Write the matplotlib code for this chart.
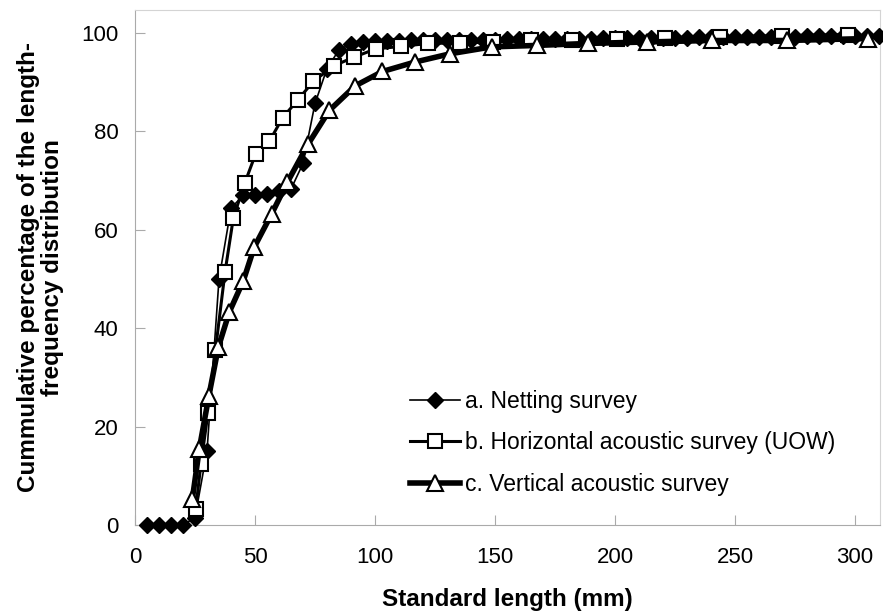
import matplotlib
matplotlib.use("Agg")
import matplotlib.pyplot as plt

plt.rcParams['font.family'] = ['Liberation Sans', 'DejaVu Sans']

# a. Netting survey (5 mm bins)
net_x = [5, 10, 15, 20, 25, 30, 35, 40, 45, 50, 55, 60, 65, 70, 75, 80, 85, 90,
         95, 100, 105, 110, 115, 120, 125, 130, 135, 140, 145, 150, 155, 160,
         165, 170, 175, 180, 185, 190, 195, 200, 205, 210, 215, 220, 225, 230,
         235, 240, 245, 250, 255, 260, 265, 270, 275, 280, 285, 290, 295, 300,
         305, 310]
net_y = [0, 0, 0, 0, 1.5, 15, 50, 64.4, 67, 67, 67.3, 68, 68.3, 73.5, 85.7,
         92.8, 96.6, 97.8, 98.1, 98.3, 98.4, 98.4, 98.5, 98.5, 98.6, 98.6, 98.6,
         98.7, 98.7, 98.7, 98.8, 98.8, 98.8, 98.8, 98.9, 98.9, 98.9, 98.9, 99.0,
         99.0, 99.0, 99.0, 99.1, 99.1, 99.1, 99.1, 99.2, 99.2, 99.2, 99.2, 99.3,
         99.3, 99.3, 99.3, 99.3, 99.4, 99.4, 99.4, 99.4, 99.5, 99.5, 99.5]

# b. Horizontal acoustic survey (UOW)
hor_x = [25.3, 27.5, 30.4, 33.5, 37.5, 41, 45.8, 50.3, 56, 61.5, 68, 74.3, 83,
         91.2, 100.3, 111, 122, 135.4, 149, 165, 182, 200.7, 221, 243.8, 269.4, 297]
hor_y = [3.3, 12.5, 22.8, 35.5, 51.4, 62.5, 69.6, 75.5, 78, 82.8, 86.5, 90.2,
         93.4, 95.1, 96.8, 97.3, 97.9, 98, 98.2, 98.5, 98.7, 98.9, 99.1, 99.2,
         99.5, 99.7]

# c. Vertical acoustic survey
ver_x = [23.9, 26.8, 30.8, 34.7, 39.3, 45.1, 49.7, 57, 63.5, 72.2, 81, 91.8,
         103.1, 116.5, 131.3, 148.6, 167.4, 188.9, 213.2, 240.3, 271.5, 305.5]
ver_y = [5.3, 15.5, 26.3, 36.1, 43.3, 49.6, 56.5, 63.3, 69.7, 77.5, 84.3, 89.3,
         92.2, 94.1, 95.8, 97.2, 97.5, 97.9, 98.2, 98.5, 98.5, 98.9]

labels = ['a. Netting survey', 'b. Horizontal acoustic survey (UOW)',
          'c. Vertical acoustic survey']

fig = plt.figure(figsize=(8.83, 6.14), dpi=100)
ax = fig.add_axes([135 / 883, 89 / 614, 745 / 883, 515 / 614])

ax.plot(net_x, net_y, color='black', lw=1.2, marker='D', ms=8.5,
        mfc='black', mec='black', label=labels[0], clip_on=False, zorder=3)
ax.plot(hor_x, hor_y, color='black', lw=2.2, marker='s', ms=10,
        mfc='white', mec='black', mew=1.5, label=labels[1], clip_on=False, zorder=4)
ax.plot(ver_x, ver_y, color='black', lw=4, marker='^', ms=11,
        mfc='white', mec='black', mew=1.5, label=labels[2], clip_on=False, zorder=5)

ax.set_xlim(0, 310.4)
ax.set_ylim(0, 104.7)
ax.set_xticks(range(0, 301, 50))
ax.set_yticks(range(0, 101, 20))

for s in ['left', 'bottom']:
    ax.spines[s].set_color('#aaaaaa')
for s in ['top', 'right']:
    ax.spines[s].set_color('#d4d4d4')
ax.tick_params(direction='in', length=7, color='#aaaaaa', labelsize=16)
ax.tick_params(axis='y', pad=12)
ax.tick_params(axis='x', pad=16)

ax.set_xlabel('Standard length (mm)', fontsize=17.5, fontweight='bold', labelpad=14)
ax.set_ylabel('Cummulative percentage of the length-\nfrequency distribution',
              fontsize=17.5, fontweight='bold', labelpad=12, linespacing=1.1)

ax.legend(loc='upper left', bbox_to_anchor=(410 / 883, 1 - 390 / 614),
          bbox_transform=fig.transFigure, frameon=False, fontsize=16.5,
          handlelength=2.2, handletextpad=0.2, labelspacing=0.8,
          borderpad=0, borderaxespad=0)

fig.savefig('out.png', dpi=100)
